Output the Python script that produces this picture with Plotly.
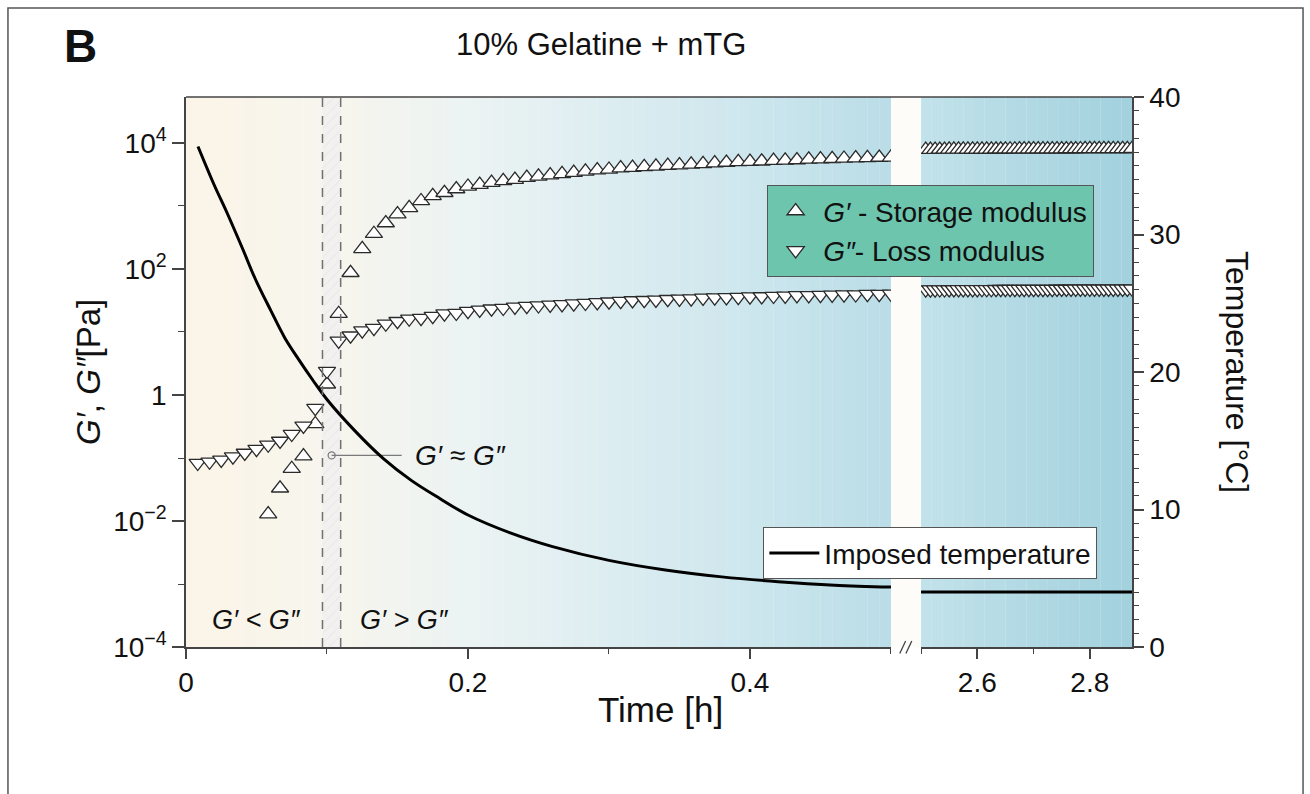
import plotly.graph_objects as go

# ---------------- data ----------------
# time [h] of each oscillatory measurement, first (0-0.5 h) segment
t_left = [0.0083, 0.0167, 0.025, 0.0333, 0.0417, 0.05, 0.0583, 0.0667, 0.075, 0.0833,
          0.0917, 0.1, 0.1083, 0.1167, 0.125, 0.1333, 0.1417, 0.15, 0.1583, 0.1667,
          0.175, 0.1833, 0.1917, 0.2, 0.2083, 0.2167, 0.225, 0.2333, 0.2417, 0.25,
          0.2583, 0.2667, 0.275, 0.2833, 0.2917, 0.3, 0.3083, 0.3167, 0.325, 0.3333,
          0.3417, 0.35, 0.3583, 0.3667, 0.375, 0.3833, 0.3917, 0.4, 0.4083, 0.4167,
          0.425, 0.4333, 0.4417, 0.45, 0.4583, 0.4667, 0.475, 0.4833, 0.4917, 0.5]
# storage modulus G' [Pa] (not detected for the first points)
gp_left = [None, None, None, None, None, None, 0.0129, 0.0331, 0.0676, 0.107,
           0.347, 1.48, 19.5, 87.1, 209, 363, 537, 741, 933, 1202,
           1445, 1622, 1862, 2042, 2188, 2344, 2512, 2630, 2818, 2951,
           3090, 3236, 3388, 3548, 3715, 3802, 3981, 4074, 4169, 4266,
           4365, 4467, 4571, 4677, 4786, 4898, 5012, 5050, 5129, 5248,
           5300, 5370, 5495, 5550, 5623, 5680, 5754, 5800, 5888, 5920]
# loss modulus G'' [Pa]
gpp_left = [0.0832, 0.0871, 0.0933, 0.105, 0.120, 0.138, 0.162, 0.186, 0.240, 0.324,
            0.617, 2.40, 7.24, 8.71, 10.5, 11.5, 13.5, 14.8, 16.2, 16.6,
            17.8, 19.5, 20.0, 21.4, 22.4, 23.4, 24.0, 25.1, 25.7, 26.3,
            26.9, 27.5, 28.2, 28.8, 29.5, 30.2, 30.9, 31.6, 31.9, 32.4,
            33.1, 33.5, 33.9, 34.7, 35.0, 35.5, 35.8, 36.3, 36.6, 37.2,
            37.5, 38.0, 38.2, 38.4, 38.9, 39.1, 39.3, 39.8, 40.0, 40.2]

# second segment (after the axis break)
t_right = [2.5083, 2.5167, 2.525, 2.5333, 2.5417, 2.55, 2.5583, 2.5667, 2.575, 2.5833,
           2.5917, 2.6, 2.6083, 2.6167, 2.625, 2.6333, 2.6417, 2.65, 2.6583, 2.6667,
           2.675, 2.6833, 2.6917, 2.7, 2.7083, 2.7167, 2.725, 2.7333, 2.7417, 2.75,
           2.7583, 2.7667, 2.775, 2.7833, 2.7917, 2.8, 2.8083, 2.8167, 2.825, 2.8333,
           2.8417, 2.85, 2.8583, 2.8667, 2.875]
gp_right = [7850, 7860, 7870, 7880, 7890, 7900, 7905, 7910, 7915, 7920,
            7925, 7930, 7935, 7940, 7945, 7950, 7955, 7960, 7965, 7970,
            7975, 7980, 7985, 7990, 7995, 8000, 8005, 8010, 8015, 8020,
            8025, 8030, 8035, 8040, 8045, 8050, 8055, 8060, 8065, 8070,
            8075, 8080, 8085, 8090, 8095]
gpp_right = [47.0, 47.1, 47.1, 47.2, 47.2, 47.3, 47.3, 47.4, 47.4, 47.5,
             47.5, 47.5, 47.6, 47.6, 47.6, 47.7, 47.7, 47.7, 47.8, 47.8,
             47.8, 47.9, 47.9, 47.9, 48.0, 48.0, 48.0, 48.0, 48.1, 48.1,
             48.1, 48.1, 48.2, 48.2, 48.2, 48.2, 48.3, 48.3, 48.3, 48.3,
             48.4, 48.4, 48.4, 48.4, 48.5]

# imposed temperature [°C]
t_temp_left = [0.0085, 0.02, 0.029, 0.04, 0.049, 0.06, 0.07, 0.08, 0.09, 0.10,
               0.12, 0.14, 0.16, 0.18, 0.20, 0.23, 0.26, 0.30, 0.34, 0.38,
               0.42, 0.46, 0.50]
temp_left = [36.4, 33.6, 31.6, 29.0, 26.8, 24.5, 22.5, 20.9, 19.4, 18.0,
             15.7, 13.7, 12.1, 10.8, 9.6, 8.3, 7.3, 6.3, 5.6, 5.1,
             4.75, 4.5, 4.36]
t_temp_right = [2.5, 2.6, 2.7, 2.8, 2.875]
temp_right = [4.0, 4.0, 4.0, 4.0, 4.0]

# crossover region G' ≈ G''
cross_t = [0.0968, 0.1097]
cross_marker_t = 0.1033
cross_marker_val = 0.11

x_ticks_left = [0, 0.2, 0.4]
x_ticks_right = [2.6, 2.8]
y_ticks = [1e-4, 1e-2, 1, 1e2, 1e4]
y_ticktext = ["10<sup>−4</sup>", "10<sup>−2</sup>", "1", "10<sup>2</sup>", "10<sup>4</sup>"]
temp_ticks = [0, 10, 20, 30, 40]

# ---------------- styling ----------------
FONT = "Liberation Sans, Arial, Helvetica, sans-serif"
AX = "#444444"
TXT = "#111111"
MK = dict(color="white", size=15, line=dict(color="#2a2a2a", width=1.3))

fig = go.Figure()

# hatched crossover band
fig.add_trace(go.Scatter(
    x=[cross_t[0], cross_t[1], cross_t[1], cross_t[0], cross_t[0]],
    y=[1e-4, 1e-4, 6e4, 6e4, 1e-4], xaxis="x", yaxis="y",
    mode="lines", line=dict(width=0), fill="toself",
    fillcolor="rgba(235,235,238,0.5)",
    fillpattern=dict(shape="/", fgcolor="#d2d2d6", bgcolor="rgba(238,238,241,0.55)",
                     size=7, solidity=0.12),
    hoverinfo="skip", showlegend=False))

# moduli
fig.add_trace(go.Scatter(x=t_left, y=gp_left, xaxis="x", yaxis="y", mode="markers",
                         marker=dict(symbol="triangle-up", **MK),
                         name="<i>G′</i> - Storage modulus", legend="legend"))
fig.add_trace(go.Scatter(x=t_left, y=gpp_left, xaxis="x", yaxis="y", mode="markers",
                         marker=dict(symbol="triangle-down", **MK),
                         name="<i>G″</i>- Loss modulus", legend="legend"))
fig.add_trace(go.Scatter(x=t_right, y=gp_right, xaxis="x3", yaxis="y", mode="markers",
                         marker=dict(symbol="triangle-up", **MK), showlegend=False))
fig.add_trace(go.Scatter(x=t_right, y=gpp_right, xaxis="x3", yaxis="y", mode="markers",
                         marker=dict(symbol="triangle-down", **MK), showlegend=False))

# pointer for G' ≈ G''
fig.add_trace(go.Scatter(x=[cross_marker_t, 0.153], y=[cross_marker_val, cross_marker_val],
                         xaxis="x", yaxis="y", mode="lines", line=dict(color="#7a7a7a", width=1.3),
                         hoverinfo="skip", showlegend=False))
fig.add_trace(go.Scatter(x=[cross_marker_t], y=[cross_marker_val], xaxis="x", yaxis="y",
                         mode="markers", marker=dict(symbol="circle-open", size=7, color="#7a7a7a",
                                                     line=dict(color="#7a7a7a", width=1.3)),
                         hoverinfo="skip", showlegend=False))

# temperature
fig.add_trace(go.Scatter(x=t_temp_left, y=temp_left, xaxis="x", yaxis="y2", mode="lines",
                         line=dict(color="black", width=3, shape="spline"),
                         name="Imposed temperature", legend="legend2"))
fig.add_trace(go.Scatter(x=t_temp_right, y=temp_right, xaxis="x3", yaxis="y2", mode="lines",
                         line=dict(color="black", width=3), showlegend=False))

# ---------------- background gradient ----------------
def lerp(c1, c2, f):
    return tuple(round(a + (b - a) * f) for a, b in zip(c1, c2))

left_stops = [(0.0, (251, 244, 232)), (0.1, (247, 245, 237)), (0.2, (236, 243, 243)),
              (0.3, (221, 237, 241)), (0.4, (205, 230, 237)), (0.5, (186, 221, 231))]
right_stops = [(2.5, (194, 226, 234)), (2.875, (162, 209, 222))]

def color_at(stops, x):
    for (x0, c0), (x1, c1) in zip(stops[:-1], stops[1:]):
        if x0 <= x <= x1:
            return lerp(c0, c1, (x - x0) / (x1 - x0))
    return stops[-1][1]

shapes = []
def strips(stops, ref, a, b, n):
    w = (b - a) / n
    for i in range(n):
        x0 = a + i * w
        c = color_at(stops, x0 + w / 2)
        shapes.append(dict(type="rect", xref=ref, yref="paper", x0=x0, x1=x0 + w * 1.02,
                           y0=0, y1=1, fillcolor="rgb(%d,%d,%d)" % c, line=dict(width=0),
                           layer="below"))

strips(left_stops, "x", 0, 0.5, 60)
strips(right_stops, "x3", 2.5, 2.875, 20)

D1 = 0.7452
D2 = 0.777
# gap between the two segments
shapes.append(dict(type="rect", xref="paper", yref="paper", x0=D1, x1=D2, y0=0, y1=1,
                   fillcolor="#fdfcf8", line=dict(width=0), layer="below"))
# plot frame top
shapes.append(dict(type="line", xref="paper", yref="paper", x0=0, x1=1, y0=1, y1=1,
                   line=dict(color=AX, width=1.5)))
# dashed crossover lines
for xv in cross_t:
    shapes.append(dict(type="line", xref="x", yref="paper", x0=xv, x1=xv, y0=0, y1=1,
                       line=dict(color="#707070", width=1.5, dash="dash")))
# axis-break marks
for dx in (0.0, 0.0065):
    shapes.append(dict(type="line", xref="paper", yref="paper",
                       x0=0.7545 + dx, x1=0.7607 + dx, y0=-0.012, y1=0.011,
                       line=dict(color=AX, width=1.3)))
# outer panel border
shapes.append(dict(type="rect", xref="paper", yref="paper", x0=-0.1882, x1=1.1808,
                   y0=-0.29, y1=1.1618, line=dict(color="#555", width=1.5)))

# ---------------- annotations ----------------
def ann(text, x, y, size, **kw):
    d = dict(text=text, x=x, y=y, xref="paper", yref="paper", showarrow=False,
             font=dict(size=size, family=FONT, color=TXT), xanchor="center", yanchor="middle")
    d.update(kw)
    return d

anns = [
    ann("<b>B</b>", -0.112, 1.093, 46),
    ann("10% Gelatine + mTG", 0.4387, 1.095, 31),
    ann("Time [h]", 0.502, -0.113, 35),
    ann("<i>G′</i>, <i>G″</i>[Pa]", -0.1036, 0.5, 33, textangle=-90),
    ann("Temperature [°C]", 1.111, 0.5, 32, textangle=90),
    ann("<i>G′ &lt; G″</i>", 0.074, 0.049, 27),
    ann("<i>G′ &gt; G″</i>", 0.2315, 0.049, 27),
    dict(text="<i>G′ ≈ G″</i>", x=0.161, y=-0.96, xref="x", yref="y", showarrow=False,
         font=dict(size=28, family=FONT, color=TXT), xanchor="left", yanchor="middle"),
]

tickfont = dict(size=28, family=FONT, color=TXT)
common_x = dict(showgrid=False, zeroline=False, showline=True, linecolor=AX, linewidth=1.5,
                ticks="outside", ticklen=10, tickwidth=1.5, tickcolor=AX, tickfont=tickfont)

fig.update_layout(
    width=1310, height=794,
    margin=dict(l=186, r=178, t=97, b=147),
    paper_bgcolor="white", plot_bgcolor="white",
    font=dict(family=FONT, color=TXT),
    xaxis=dict(domain=[0, D1], range=[0, 0.5], anchor="y", tickvals=x_ticks_left,
               ticktext=["0", "0.2", "0.4"],
               minor=dict(tickvals=[0.1, 0.3, 0.5], ticklen=5, tickwidth=1.3, tickcolor=AX,
                          ticks="outside"), **common_x),
    xaxis3=dict(domain=[D2, 1], range=[2.5, 2.875], anchor="y", tickvals=x_ticks_right,
                ticktext=["2.6", "2.8"],
                minor=dict(tickvals=[2.5, 2.7], ticklen=5, tickwidth=1.3, tickcolor=AX,
                           ticks="outside"), **common_x),
    yaxis=dict(type="log", range=[-4, 4.73], domain=[0, 1], anchor="x", tickvals=y_ticks,
               ticktext=y_ticktext, showgrid=False, zeroline=False, showline=True,
               linecolor=AX, linewidth=1.5, ticks="outside", ticklen=12, tickwidth=1.5,
               tickcolor=AX, tickfont=tickfont,
               minor=dict(tickvals=[1e-3, 1e-1, 10, 1e3], ticklen=6, tickwidth=1.3,
                          tickcolor=AX, ticks="outside")),
    yaxis2=dict(range=[0, 40], overlaying="y", side="right", anchor="x3", tickvals=temp_ticks,
                showgrid=False, zeroline=False, showline=True, linecolor=AX, linewidth=1.5,
                ticks="outside", ticklen=10, tickwidth=1.5, tickcolor=AX, tickfont=tickfont,
                minor=dict(dtick=1, ticklen=5, tickwidth=1.2, tickcolor=AX, ticks="outside")),
    legend=dict(x=0.614, y=0.84, xanchor="left", yanchor="top", bgcolor="#6dc5ad",
                bordercolor="#555", borderwidth=1.3, font=dict(size=28, family=FONT, color=TXT),
                itemwidth=45, tracegroupgap=0),
    legend2=dict(x=0.61, y=0.218, xanchor="left", yanchor="top", bgcolor="white",
                 bordercolor="#555", borderwidth=1.3, font=dict(size=28, family=FONT, color=TXT),
                 itemwidth=50),
    shapes=shapes,
    annotations=anns,
)

fig.write_html("out.html")
